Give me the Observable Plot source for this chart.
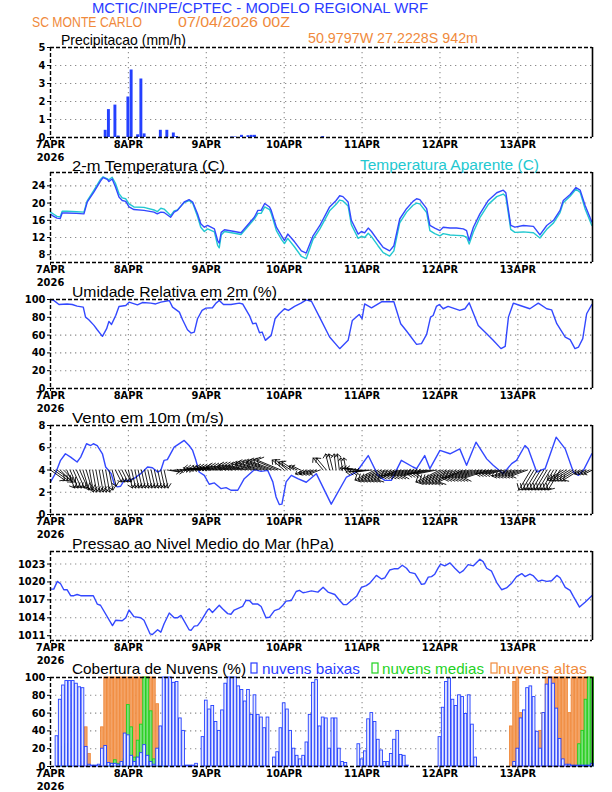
<!DOCTYPE html>
<html><head><meta charset="utf-8">
<script src="https://cdn.jsdelivr.net/npm/d3@7"></script>
<script src="https://cdn.jsdelivr.net/npm/@observablehq/plot@0.6"></script>
<style>
body{margin:0;background:#fff;}
#root{position:relative;width:612px;height:792px;overflow:hidden;background:#fff;}
</style></head><body><div id="root"></div>
<script>
// ---------------- DATA ----------------
const dayLabels = ["7APR","8APR","9APR","10APR","11APR","12APR","13APR"];
const dayHours = [0,24,48,72,96,120,144];

// precipitation (hour, mm/h)
const precip = [[17,0.4],[18,1.55],[20,1.8],[21,0.08],[24,2.25],[25,3.75],[27,0.15],[28,3.25],[29,0.2],[34,0.4],[36,0.4],[38,0.25],[39,0.05],[56,0.03],[57,0.03],[59,0.12],[61,0.1],[62,0.12],[63,0.12],[84,0.05]];

// 2-m temperature (hour, C)
const temperature = [[0,17.4],[1,16.9],[2,16.5],[3,16.4],[3.6,17.7],[5,17.7],[8,17.6],[10.3,17.5],[11.3,20.2],[13.4,22.6],[15.4,25.1],[16.2,25.9],[17.5,25.5],[18,25],[19,25.6],[20,23.8],[21.1,21.4],[22.1,20.6],[23.2,20.4],[24.2,19.1],[25.7,18.5],[28.8,18.3],[31.9,17.9],[32.9,17.5],[34,17.9],[35,17.8],[37,16.7],[38.1,17.9],[39.1,18.3],[41.2,20.25],[42.7,20.8],[43.8,20.25],[45.3,17.5],[46.3,15.2],[47.4,14.4],[48.4,14.8],[50.5,14],[51.5,11.3],[52,10.7],[52.6,13.2],[53.6,13.8],[56.7,13.4],[58.7,13.1],[62.8,16.7],[63.9,18.3],[64.9,18.3],[66,19.9],[67.5,19.1],[68,18.3],[69.6,14.4],[71.2,12.4],[72.1,11.3],[73.1,12.8],[75.2,11],[77.3,8.9],[78.8,8.4],[80.9,12.4],[83,14.8],[86,19.1],[88,20.6],[89.1,21.7],[90.1,21.5],[91.7,20.25],[92.7,16],[94.8,12.8],[95.8,13.4],[96.8,13.1],[97.9,14.2],[98.9,13.4],[100.9,11.3],[102.5,9.7],[104.5,8.9],[105.8,10.1],[107.6,16.3],[109.7,18.7],[111.7,20.4],[112.8,21],[113.8,20.8],[115.9,18.7],[116.9,14.8],[118.4,14.2],[120,13.6],[121,14.4],[123.1,14.2],[125.1,14.2],[127.2,14],[128.2,13.6],[129,11.3],[130.3,14.4],[132.3,17.5],[134.9,20.6],[137.5,22.4],[139.5,23],[140.3,22.4],[141.8,14.8],[143.1,14.4],[145.7,14.8],[148.8,14.6],[150.8,12.6],[152.9,14.8],[155,16],[157,18.3],[158,20.6],[160.1,22],[161.9,23.6],[163.2,23],[164.7,19.5],[166.8,15.6]];

// apparent temperature (hour, C)
const apparent = [[0,17.9],[1,17.4],[2,16.9],[3,16.8],[3.6,18.1],[5,18.1],[8,18],[10.3,17.9],[11.3,20.5],[13.4,23],[15.4,25.5],[16.2,26.1],[17.5,25.6],[18,25.4],[19,26],[20,24.6],[21.1,22.2],[22.1,21.2],[23.2,21],[24.2,19.8],[25.7,19.1],[28.8,19],[31.9,18.4],[32.9,18],[34,18.8],[35,18.6],[37,17.1],[38.1,18.2],[39.1,18.4],[41.2,20.1],[42.7,20.6],[43.8,20],[45.3,16.9],[46.3,14.4],[47.4,13.4],[48.4,14],[50.5,13.3],[51.5,10.2],[52,9.6],[52.6,12.6],[53.6,13.4],[56.7,13],[58.7,12.7],[62.8,16.3],[63.9,17.6],[64.9,17.6],[66,19.1],[67.5,18.5],[68,17.6],[69.6,13.6],[71.2,11.5],[72.1,10.6],[73.1,11.8],[75.2,9.8],[77.3,7.6],[78.8,7.1],[80.9,11.6],[83,14],[86,18.2],[88,19.7],[89.1,20.7],[90.1,20.5],[91.7,19.3],[92.7,15],[94.8,11.8],[95.8,12.3],[96.8,12],[97.9,13],[98.9,12.2],[100.9,10.1],[102.5,8.5],[104.5,7.7],[105.8,8.9],[107.6,15.4],[109.7,17.9],[111.7,19.5],[112.8,20],[113.8,19.8],[115.9,17.8],[116.9,13.6],[118.4,12.9],[120,12.4],[121,12.9],[123.1,12.6],[125.1,12.5],[127.2,12.4],[128.2,12.1],[129,10.5],[130.3,13.3],[132.3,16.6],[134.9,19.7],[137.5,21.5],[139.5,22.1],[140.3,21.5],[141.8,13.9],[143.1,13.2],[145.7,13.3],[148.8,13.1],[150.8,11.9],[152.9,13.9],[155,15.4],[157,17.8],[158,20.1],[160.1,21.6],[161.9,23.2],[163.2,22.5],[164.7,18.7],[166.8,14.8]];

// relative humidity (hour, %)
const humidity = [[0,100],[1,99],[2.6,94.4],[5.1,95],[6.7,94.4],[8.2,92.5],[10.1,91.4],[10.8,80.2],[11.8,77.2],[13.4,70.9],[14.4,66],[16,58.6],[17.3,67.2],[18,75.4],[18.8,72],[20.1,82],[21.1,92.2],[23.2,93.3],[24.2,97],[26.8,94],[28.3,96.6],[30.9,95.9],[32.4,95],[34,97],[36.6,98.9],[37.6,91.4],[39.7,85.8],[40.7,77.2],[42.2,66],[43.3,62.3],[44.3,63.4],[45.3,78.4],[46.7,87.7],[47.9,90.3],[49.9,90.7],[51,95.9],[52,98.9],[53.3,94.4],[55.6,94.4],[58.2,95.9],[59.2,95],[61.3,82],[62.3,72.8],[63.3,73.5],[64.4,62.7],[65.2,63.4],[66.2,54.1],[68,59.7],[69.2,78.4],[70.5,84],[72.1,89.6],[73.3,87.7],[75.2,92.2],[77.2,95.9],[78.8,99.6],[80.4,98],[82.9,80.2],[86,57.8],[89.1,44.8],[91.7,54.1],[93,76.5],[95.1,83.2],[96,78.4],[96.8,95],[98.9,90.7],[102,97.4],[105.8,97.4],[107.9,72.8],[109.7,64.6],[112.8,49.6],[114.3,50.4],[115.9,60.8],[117.1,80.2],[117.9,82],[118.9,92.2],[119.8,94.4],[121,89.6],[122.5,92.2],[126.1,87.7],[127.7,89.6],[129,96.3],[131.8,70.9],[134.4,61.6],[136.4,54.1],[138.8,44.8],[140.1,47.4],[141.1,80.2],[142.6,95.9],[144.7,93.3],[147.7,89.6],[150.3,95.9],[152.9,89.6],[154.4,88.4],[156,72.8],[158.6,57.8],[160.1,54.9],[161.6,44.8],[162.7,46.6],[164,56],[165.2,84],[166.8,94.4]];

// wind speed 10m (hour, m/s)
const windSpeed = [[0,2.94],[1.5,3.67],[3.1,4.87],[4.6,5.46],[6.2,5.16],[8.2,4.72],[9.3,5.16],[11.1,6.36],[12.4,6.2],[13.2,6.36],[14.4,6.2],[16,5.46],[17,4.27],[18.7,3.67],[19.6,2.78],[20.6,2.48],[21.6,2.54],[22.7,3.07],[24.2,3.07],[25.7,3.22],[27.8,3.67],[29.9,4.27],[31.4,4.2],[33,3.82],[34,3.97],[35,4.87],[36,4.93],[38.1,6.06],[41.2,6.66],[42.7,6.2],[43.8,5.76],[44.8,4.87],[45.8,3.82],[47.4,3.52],[48.9,2.72],[50.5,2.84],[52.5,2.33],[54.1,2.42],[55.6,2.18],[57.7,2.18],[59.7,3.22],[62.8,4.03],[64.9,3.88],[66.9,3.97],[68.5,2.93],[69.5,1.58],[70.5,0.9],[71.3,0.93],[72.6,2.93],[74.2,3.52],[76.2,3.22],[78.8,2.9],[81.9,3.67],[86.5,0.93],[91.2,3.37],[94.3,3.82],[97.9,5.3],[100.9,3.52],[103,3.07],[105,3.07],[108.1,4.87],[111.7,4.27],[112.8,4.12],[115.3,5.3],[116.9,4.12],[120,5.76],[123.1,5.46],[126.1,5.9],[128.2,4.42],[131.1,6.5],[134.4,5.0],[136.4,4.42],[139.5,3.67],[142.1,4.57],[143.6,4.87],[146.2,6.2],[147.2,5.9],[149.8,3.82],[152.4,4.12],[155.8,6.95],[158.6,5.9],[161.1,3.82],[162.7,3.52],[164.2,3.97],[166.8,5.46]];

// wind vectors, hourly components (m/s), drawn from the 4 m/s baseline
const windU = [3.5,3.5,3.5,3,3,2,2,2,2,2,1.5,1.5,1,1,1,1,1,1,1,1,1.5,1.5,1.5,1.5,1,1,1,1,1,1,1,1,1,1,1,1,3,3,3,3,3,3,3,3,3,3,-4,-4,-4,-4,-4,-4,-4,-4,-4.5,-4.5,-4.5,-4.5,-5,-5,-5,-5,-5,-5,-5.5,-5.5,-5.5,-5.5,-6,-6,-6,-6,-3,-3,-3,-3,-2,-2,-2,-2,-2.5,-2.5,-2.5,-2.5,-2.5,-2.5,-1,-1,-0.5,-0.5,-0.5,-0.5,-0.5,-3,-3,-3,-4,-4,-4,-4,-5,-5,-5,-5,-5,-5,-5,-5,-5,-5,-5,-5,-5,-5,-5,-5,-5,-5,-5,-5,-6,-6,-6,-6,-6,-6,-6,-6,-6,-6,-6,-6,-6,-6,-6,-6,-4,-4,-4,-4,-4,-4,-4,-4,-4,-4,-4,-4,-3,-3,-3,-3,-3,-3,-3,-3,-3,-3,-4,-4,-4,-4,-4,-4,-2,-2,-2,-2];
const windV = [-2.5,-2.5,-2.5,-3,-3,-4.5,-4.5,-4.5,-4.5,-4.5,-5,-5,-5.5,-5.5,-5.5,-5.5,-5.5,-5.5,-5,-4,-3,-3,-3,-3,-4.5,-4.5,-4.5,-4.5,-4.5,-4.5,-4.5,-4.5,-4.5,-4.5,-4.5,-4.5,-0.5,-0.5,0,0,0,0.5,0.5,0.5,0.5,0.5,0.5,0.5,0.5,0.5,0.8,0.8,0.8,0.8,1,1,1,1,1.2,1.2,1.2,1.2,1.5,1.5,1.8,1.8,2,2,2.2,2.2,2.5,2.5,2.5,2.5,2,2,1,1,-1,-1,-1,-1,-1,-1,3,3,4,4,4,4,3,3,0.5,0.5,0.5,0.5,-0.5,-0.5,-0.5,-0.5,-2.5,-2.5,-2.5,-2.5,-2.5,-2.5,-2.5,-2.5,-1.5,-1.5,-1.5,-1.5,-1.5,-1.5,-1.5,-1.5,-1,-1,-1,-1,-3,-3,-3,-3,-3,-3,-3,-3,-2,-2,-2,-2,-2,-2,-2,-2,-1,-1,-1,-1,-1,-1.5,-1.5,-1.5,-1.5,-1.5,-1.5,-1.5,-5,-5,-5,-5,-5,-5,-5,-5,-5,-5,-2.5,-2.5,-2.5,-2.5,-2.5,-2.5,-1,-1,-1,-1];

// mean sea level pressure (hour, hPa)
const pressure = [[0,1018.8],[1,1018.8],[2.1,1020.1],[3.1,1019.7],[4.1,1018.7],[5.1,1018.7],[6.2,1017.7],[7.2,1017.7],[8.2,1017.9],[9.3,1017.7],[13.2,1017.7],[14.4,1016.3],[15.4,1016.1],[19.1,1012.7],[20.1,1013.6],[22.1,1013.5],[23.2,1014],[24.2,1015.3],[25.7,1014.2],[27.8,1014],[28.8,1013.6],[30.7,1011.3],[31.4,1011.2],[33,1012],[34,1011.6],[35,1013],[36.6,1014.8],[38.1,1014],[39.1,1014],[40.2,1014.4],[42.7,1012],[43.3,1011.9],[44.3,1012.6],[45.3,1012.7],[46.3,1013.4],[48.4,1015.3],[48.9,1015.5],[49.9,1014.9],[52,1016.1],[53,1015.5],[54.6,1014.7],[55.6,1014.6],[56.6,1015.3],[59.2,1015.9],[60.2,1016.9],[61.3,1016.9],[62.3,1016.3],[63.9,1016.3],[64.9,1015.9],[66.4,1014],[67.5,1014.1],[69,1015.2],[70.5,1015.5],[71.6,1016.1],[72.6,1016.8],[74.2,1016.9],[75.7,1018.4],[76.7,1018.6],[77.8,1018.2],[78.8,1018.3],[80.4,1018.5],[82.4,1018.3],[84,1019.1],[85.5,1018.3],[87.6,1017.9],[89.1,1016.9],[90.3,1016.2],[91.2,1016.2],[92.7,1016.9],[94.3,1017.6],[95.8,1019.1],[97.3,1019.4],[98.4,1019.8],[100.4,1021.1],[102,1020.5],[103,1020.7],[104.5,1022],[105.8,1022.2],[107.1,1022.2],[108.4,1022.8],[109.7,1022.3],[110.7,1021.6],[112.3,1021.4],[113.3,1020.5],[114.3,1019.6],[115.3,1019.7],[116.4,1020.8],[117.4,1020.9],[118.4,1021.3],[119.5,1022.4],[120.2,1023],[121.5,1022.7],[123.1,1023.2],[124.6,1022.3],[126.1,1021.5],[127.2,1021.9],[128.7,1022.9],[130.3,1022.7],[132.3,1023.8],[133.3,1023.4],[134.4,1022.3],[135.9,1021.8],[137.5,1019.9],[139,1018.7],[140.5,1019],[142.1,1019.8],[143.6,1020.9],[145.2,1021.4],[146.2,1020.9],[147.7,1021.3],[148.8,1021],[150.3,1020.1],[151.4,1020.3],[152.9,1020.1],[154.4,1020.2],[156,1021.1],[157,1020.7],[158.6,1019.1],[160.1,1018.6],[161.1,1017.6],[163,1015.8],[164.7,1016.6],[166.8,1017.7]];

// cloud cover, hourly (%)
const cloudLow = [0,0,34,75,91,96,96,96,93,89,88,22,2,1,1,2,20,23,4,3,3,2,5,37,35,12,5,10,15,24,12,5,2,20,45,100,100,100,94,95,54,40,1,1,1,3,0,33,74,64,68,50,40,63,93,100,100,100,90,86,73,86,58,80,58,55,43,55,0,10,16,43,71,64,40,20,12,8,12,27,58,94,97,45,55,54,20,54,54,20,5,4,0,0,0,25,8,17,53,60,50,30,18,5,5,14,30,40,13,12,1,0,0,0,0,0,0,0,0,0,33,66,95,99,75,68,80,78,59,80,47,10,0,0,0,0,0,0,0,0,0,0,0,5,20,54,63,88,90,78,39,20,60,92,100,93,65,31,8,2,2,1,1,1,1,1,1,3];
const cloudMid = [0,0,0,4,22,25,0,0,0,0,0,0,0,0,0,0,0,10,2,3,7,3,3,8,69,44,10,29,47,100,100,62,8,5,21,5,0,0,0,0,0,0,0,0,0,0,0,0,0,0,0,0,0,0,0,0,0,0,0,0,0,0,0,0,0,0,0,0,0,0,0,0,0,0,0,0,0,0,0,0,0,0,0,0,0,0,0,0,0,0,0,0,0,0,0,0,0,0,0,0,0,0,0,0,0,0,0,0,0,0,0,0,0,0,0,0,0,0,0,0,0,0,0,0,0,0,0,0,0,0,0,0,0,0,0,0,0,0,0,0,0,0,0,0,0,0,0,0,0,0,0,0,0,0,0,0,0,0,0,0,0,0,0,25,40,75,100,100];
const cloudHigh = [0,0,0,0,0,0,0,0,0,0,5,44,14,0,0,0,44,100,100,100,100,100,100,100,100,100,100,100,100,100,100,100,100,70,35,0,0,0,0,0,0,0,0,0,0,0,0,0,0,0,0,0,0,0,0,0,0,0,0,0,0,0,0,0,0,0,0,0,0,0,0,0,0,0,0,0,0,0,0,0,0,0,0,0,0,0,0,0,0,0,0,0,0,0,0,0,0,0,0,0,0,0,0,0,0,0,0,0,0,0,0,0,0,0,0,0,0,0,0,0,0,0,0,0,0,0,0,0,0,0,0,0,0,0,0,0,0,0,0,0,0,0,45,95,100,60,40,30,10,5,20,40,60,100,100,100,100,100,100,100,60,100,100,100,100,100,100,100];

// ---------------- STYLE ----------------
const BLUE = "#3348ff", BAR_BLUE = "#2440ff", CYAN = "#22c8d0", ORANGE = "#f08a3c", GREEN = "#1ed21e";
const FONT_T = "'Liberation Sans', Arial, sans-serif";
const FONT_K = "'Liberation Sans Narrow','Arial Narrow','DejaVu Sans Condensed','Liberation Sans',sans-serif";
const root = document.getElementById("root");
const hours = d3.range(168);
const fmt = d3.format("d");

function panel(top, bottom, yDomain, yTicks, marks, extra = {}) {
  const mt = 6, mb = 26;
  const inner = yTicks.filter(t => t > yDomain[0] && t < yDomain[1]);
  const dash = {stroke: "black", strokeWidth: 1.4, strokeDasharray: "4,2"};
  const chart = Plot.plot({
    width: 612, height: bottom - top + mt + mb,
    marginLeft: 50, marginRight: 20, marginTop: mt, marginBottom: mb,
    style: {background: "transparent", fontFamily: FONT_K, fontSize: "11px", fontWeight: "bold", color: "black", overflow: "visible"},
    x: {domain: [0, 167], ticks: dayHours, tickFormat: d => dayLabels[dayHours.indexOf(d)], tickSize: 3, tickPadding: 0, label: null},
    y: {domain: yDomain, ticks: yTicks, tickFormat: fmt, tickSize: 3, tickPadding: 2, label: null},
    ...extra,
    marks: [
      Plot.ruleX(dayHours.slice(1), {stroke: "#8c8c8c", strokeWidth: 1.1, strokeDasharray: "1.3,3.7"}),
      Plot.ruleY(inner, {stroke: "#8c8c8c", strokeWidth: 1.1, strokeDasharray: "1.3,3.7"}),
      ...marks,
      Plot.ruleY([yDomain[1]], dash),
      Plot.ruleY([yDomain[0]], dash),
      Plot.ruleX([0], dash),
      Plot.ruleX([167], {stroke: "black", strokeWidth: 1.6}),
      Plot.text(["2026"], {text: d => d, frameAnchor: "bottom-left", textAnchor: "middle", lineAnchor: "top", dy: 15.4, fontWeight: "bold"})
    ]
  });
  chart.style.position = "absolute";
  chart.style.left = "0px";
  chart.style.top = (top - mt) + "px";
  root.appendChild(chart);
}

// 1 precipitation
panel(47, 137, [0, 5], [0,1,2,3,4,5], [
  Plot.rectY(precip, {x1: d => d[0] - 0.45, x2: d => d[0] + 0.45, y: d => d[1], fill: BAR_BLUE})
]);
// 2 temperature
panel(172, 262, [6.2, 27.1], [8,12,16,20,24], [
  Plot.line(apparent, {x: d => d[0], y: d => d[1], stroke: CYAN, strokeWidth: 1.4}),
  Plot.line(temperature, {x: d => d[0], y: d => d[1], stroke: BLUE, strokeWidth: 1.4})
]);
// 3 humidity
panel(299, 388, [0, 100], [0,20,40,60,80,100], [
  Plot.line(humidity, {x: d => d[0], y: d => d[1], stroke: BLUE, strokeWidth: 1.4})
]);
// 4 wind
const windVec = hours.map(h => ({h, u: windU[h], v: windV[h]}));
panel(425, 514, [0, 8], [0,2,4,6,8], [
  Plot.line(windSpeed, {x: d => d[0], y: d => d[1], stroke: BLUE, strokeWidth: 1.4}),
  Plot.vector(windVec, {x: "h", y: () => 4, anchor: "start",
    rotate: d => Math.atan2(d.u, d.v) * 180 / Math.PI,
    length: d => Math.hypot(d.u, d.v), stroke: "black", strokeWidth: 0.8})
], {length: {type: "linear", domain: [0, 10], range: [0, 40]}});
// 5 pressure
panel(551, 640, [1010.2, 1025.1], [1011,1014,1017,1020,1023], [
  Plot.line(pressure, {x: d => d[0], y: d => d[1], stroke: BLUE, strokeWidth: 1.4})
]);
// 6 clouds
const cl = hours.map(h => ({h, low: cloudLow[h], mid: cloudMid[h], high: cloudHigh[h]}));
const bars = (key, fill, stroke) => Plot.rectY(cl.filter(d => d[key] > 0), {x1: d => d.h - 0.42, x2: d => d.h + 0.42, y: key, fill, stroke, strokeWidth: 0.9});
panel(677, 766, [0, 100], [0,20,40,60,80,100], [
  bars("high", "#f4a468", ORANGE),
  bars("mid", "#7de07d", GREEN),
  bars("low", "#e6e9ff", BAR_BLUE)
]);

// ---------------- TITLES (overlay) ----------------
const titles = [
  {t: "MCTIC/INPE/CPTEC - MODELO REGIONAL WRF", x: 92, y: 13, w: 336, c: "#2a3cff"},
  {t: "SC MONTE CARLO", x: 32, y: 27, w: 110, c: ORANGE},
  {t: "07/04/2026 00Z", x: 178, y: 27, w: 112, c: ORANGE},
  {t: "50.9797W 27.2228S 942m", x: 308, y: 43, w: 170, c: ORANGE},
  {t: "Precipitacao (mm/h)", x: 61, y: 44.5, w: 125, c: "black"},
  {t: "2-m Temperatura (C)", x: 72, y: 170.5, w: 153, c: "black"},
  {t: "Temperatura Aparente (C)", x: 360, y: 170, w: 179, c: CYAN},
  {t: "Umidade Relativa em 2m (%)", x: 72, y: 296.5, w: 205, c: "black"},
  {t: "Vento em 10m (m/s)", x: 72, y: 422.5, w: 152, c: "black"},
  {t: "Pressao ao Nivel Medio do Mar (hPa)", x: 72, y: 548.5, w: 262, c: "black"},
  {t: "Cobertura de Nuvens (%)", x: 72, y: 674, w: 174, c: "black"},
  {t: "nuvens baixas", x: 262, y: 674, w: 98, c: "#2a3cff"},
  {t: "nuvens medias", x: 382, y: 674, w: 102, c: GREEN},
  {t: "nuvens altas", x: 498, y: 674, w: 89, c: ORANGE}
];
const legendBoxes = [{x: 251, c: "#2a3cff"}, {x: 372, c: GREEN}, {x: 491, c: ORANGE}];
const svg = d3.select(root).append("svg")
  .attr("width", 612).attr("height", 792)
  .style("position", "absolute").style("left", 0).style("top", 0);
svg.selectAll("text").data(titles).join("text")
  .attr("x", d => d.x).attr("y", d => d.y)
  .attr("textLength", d => d.w).attr("lengthAdjust", "spacingAndGlyphs")
  .attr("fill", d => d.c).attr("font-family", FONT_T).attr("font-size", 15)
  .text(d => d.t);
svg.selectAll("rect").data(legendBoxes).join("rect")
  .attr("x", d => d.x).attr("y", 663).attr("width", 6).attr("height", 10)
  .attr("fill", "none").attr("stroke", d => d.c).attr("stroke-width", 1.2);
</script>
</body></html>
